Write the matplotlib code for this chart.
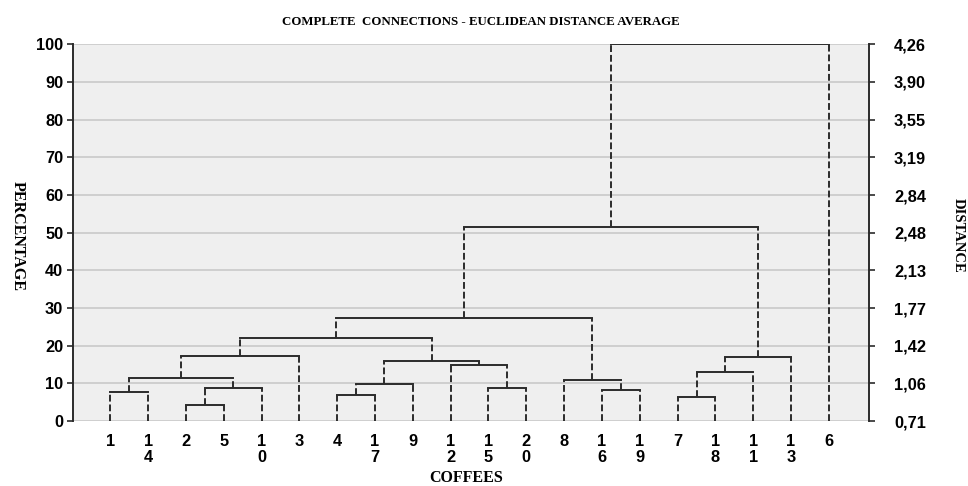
import numpy as np
import matplotlib
matplotlib.use("Agg")
import matplotlib.pyplot as plt

# leaf order along the x axis
leaves = ['1', '14', '2', '5', '10', '3', '4', '17', '9', '12',
          '15', '20', '8', '16', '19', '7', '18', '11', '13', '6']

# merges: (name, left, right, height in %)
merges = [
    ('A', '2', '5', 4.25),
    ('B', '7', '18', 6.45),
    ('C', '4', '17', 6.8),
    ('D', '1', '14', 7.8),
    ('E', '16', '19', 8.2),
    ('F', 'A', '10', 8.85),
    ('G', '15', '20', 8.85),
    ('H', 'C', '9', 9.8),
    ('I', '8', 'E', 10.9),
    ('J', 'D', 'F', 11.5),
    ('K', 'B', '11', 13.1),
    ('L', '12', 'G', 14.9),
    ('M', 'H', 'L', 15.85),
    ('N', 'K', '13', 16.9),
    ('O', 'J', '3', 17.25),
    ('P', 'O', 'M', 21.95),
    ('Q', 'P', 'I', 27.3),
    ('R', 'Q', 'N', 51.6),
    ('S', 'R', '6', 100.0),
]

pct_ticks = [0, 10, 20, 30, 40, 50, 60, 70, 80, 90, 100]
dist_labels = ['0,71', '1,06', '1,42', '1,77', '2,13', '2,48',
               '2,84', '3,19', '3,55', '3,90', '4,26']

line_col = '#2b2b2b'
bold_sans = dict(family='Liberation Sans', weight='bold', size=11.8)
serif_b = dict(family='Liberation Serif', weight='bold')

fig = plt.figure(figsize=(9.68, 4.86), dpi=100)
ax = fig.add_axes([0.0754, 0.1337, 0.8223, 0.7751])
ax.set_facecolor('#efefef')

pos = {name: (float(i), 0.0) for i, name in enumerate(leaves)}
for name, a, b, h in merges:
    xa, ha = pos[a]
    xb, hb = pos[b]
    ax.plot([xa, xa], [ha, h], color=line_col, lw=1.4, ls=(0, (3.5, 1.5)),
            solid_capstyle='butt', zorder=3)
    ax.plot([xb, xb], [hb, h], color=line_col, lw=1.4, ls=(0, (3.5, 1.5)),
            solid_capstyle='butt', zorder=3)
    ax.plot([xa, xb], [h, h], color=line_col, lw=1.4, zorder=3)
    pos[name] = ((xa + xb) / 2, h)

ax.set_xlim(-0.985, 20.06)
ax.set_ylim(0, 100)
ax.set_yticks(pct_ticks)
ax.set_yticklabels([str(t) for t in pct_ticks], **bold_sans)
ax.grid(axis='y', color='#c9c9c9', lw=1.2, zorder=1)
ax.set_axisbelow(True)

ax.set_xticks(range(len(leaves)))
ax.set_xticklabels(['\n'.join(l) for l in leaves], linespacing=1.15, **bold_sans)
ax.tick_params(axis='x', length=0, pad=9)
ax.tick_params(axis='y', direction='out', length=4, width=1.2, color=line_col, pad=3)

for s in ['top', 'bottom', 'right']:
    ax.spines[s].set_visible(False)
ax.spines['left'].set_color(line_col)
ax.spines['left'].set_linewidth(1.4)

ax2 = ax.twinx()
ax2.set_ylim(0, 100)
ax2.set_yticks(pct_ticks)
ax2.set_yticklabels(dist_labels, **bold_sans)
ax2.tick_params(axis='y', direction='out', length=4, width=1.2, color=line_col, pad=14)
for s in ['top', 'bottom', 'left']:
    ax2.spines[s].set_visible(False)
ax2.spines['right'].set_color(line_col)
ax2.spines['right'].set_linewidth(1.4)

fig.text(0.497, 0.955, 'COMPLETE  CONNECTIONS - EUCLIDEAN DISTANCE AVERAGE',
         ha='center', va='center', size=9.3, **serif_b)
fig.text(0.482, 0.0, 'COFFEES', ha='center', va='bottom', size=11.5, **serif_b)
fig.text(0.018, 0.515, 'PERCENTAGE', ha='center', va='center', rotation=270,
         size=11.5, **serif_b)
fig.text(0.99, 0.515, 'DISTANCE', ha='center', va='center', rotation=270,
         size=10.5, **serif_b)

fig.savefig('out.png', dpi=100)
